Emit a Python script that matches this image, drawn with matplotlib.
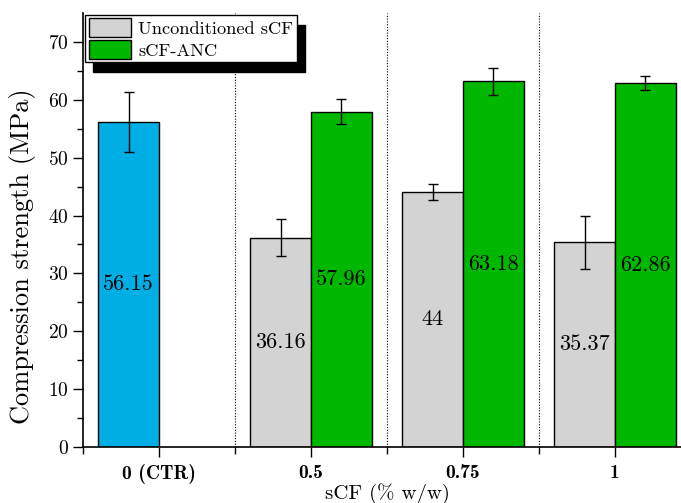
import numpy as np
import matplotlib
matplotlib.use("Agg")
import matplotlib.pyplot as plt

# -------------------- Data --------------------
groups = ["0 (CTR)", "0.5", "0.75", "1"]
ctr_mean = [56.15]
ctr_err = [5.2]
uncond_mean = [36.16, 44.0, 35.37]
uncond_err = [3.2, 1.4, 4.55]
anc_mean = [57.96, 63.18, 62.86]
anc_err = [2.1, 2.3, 1.25]
uncond_labels = ["36.16", "44", "35.37"]
anc_labels = ["57.96", "63.18", "62.86"]
ctr_labels = ["56.15"]

# -------------------- Style --------------------
plt.rcParams["font.family"] = "cmr10"
plt.rcParams["axes.formatter.use_mathtext"] = True
plt.rcParams["axes.unicode_minus"] = False

BLUE = "#00AEE6"
GREEN = "#00B800"
GREY = "#D3D3D3"
W = 0.4

fig = plt.figure(figsize=(6.81, 5.03), dpi=100)
ax = fig.add_axes([83 / 681, 56 / 503, 608 / 681, 434 / 503])

x = np.arange(len(groups))
ekw = dict(ecolor="black", elinewidth=1.0, capsize=3.5, capthick=1.0)

# control bar (left half of group 0)
ax.bar(x[:1] - W / 2, ctr_mean, W, yerr=ctr_err, color=BLUE,
       edgecolor="black", linewidth=1.0, error_kw=ekw, zorder=2)
b1 = ax.bar(x[1:] - W / 2, uncond_mean, W, yerr=uncond_err, color=GREY,
            edgecolor="black", linewidth=1.0, error_kw=ekw, zorder=2,
            label="Unconditioned sCF")
b2 = ax.bar(x[1:] + W / 2, anc_mean, W, yerr=anc_err, color=GREEN,
            edgecolor="black", linewidth=1.0, error_kw=ekw, zorder=2,
            label="sCF-ANC")

# value labels at half height
for xi, v, s in zip(x[:1] - W / 2, ctr_mean, ctr_labels):
    ax.text(xi, v / 2, s, ha="center", va="center", fontsize=16)
for xi, v, s in zip(x[1:] - W / 2, uncond_mean, uncond_labels):
    ax.text(xi, v / 2, s, ha="center", va="center", fontsize=16)
for xi, v, s in zip(x[1:] + W / 2, anc_mean, anc_labels):
    ax.text(xi, v / 2, s, ha="center", va="center", fontsize=16)

# dotted separators
for xs in x[:-1] + 0.5:
    ax.axvline(xs, color="black", linestyle=(0, (1, 1.5)), linewidth=0.8, zorder=1)

ax.set_xlim(-0.5, 3.5)
ax.set_ylim(0, 75)
ax.set_xticks(x)
ax.set_xticklabels(groups, fontfamily="cmb10", fontsize=12)
ax.set_xticks(np.arange(-0.5, 3.6, 1.0), minor=True)
ax.set_yticks(np.arange(0, 71, 10))
ax.set_yticks(np.arange(5, 75, 10), minor=True)
ax.tick_params(axis="both", which="major", direction="out", length=7, width=1.0,
               labelsize=14)
ax.tick_params(axis="x", which="major", pad=5)
ax.tick_params(axis="y", which="major", pad=3)
ax.tick_params(axis="x", which="minor", direction="out", length=5, width=1.0)
ax.tick_params(axis="y", which="minor", direction="out", length=4, width=1.0)

for side in ["top", "right"]:
    ax.spines[side].set_visible(False)
for side in ["left", "bottom"]:
    ax.spines[side].set_linewidth(1.2)

ax.set_xlabel("sCF (% w/w)", fontsize=15, labelpad=0)
ax.set_ylabel("Compression strength (MPa)", fontsize=19)
ax.yaxis.set_label_coords(-0.078, 0.44)

leg = ax.legend(handles=[b1, b2], loc="upper left", bbox_to_anchor=(0.0, 1.0),
                fontsize=13.2, fancybox=False, framealpha=1, edgecolor="black",
                borderpad=0.2, handlelength=2.3, handleheight=1.15,
                handletextpad=0.4, labelspacing=0.2, borderaxespad=0.1,
                shadow={"ox": 6, "oy": -7, "color": "black", "alpha": 1})
leg.get_frame().set_linewidth(1.0)

fig.savefig("out.png", dpi=100)
